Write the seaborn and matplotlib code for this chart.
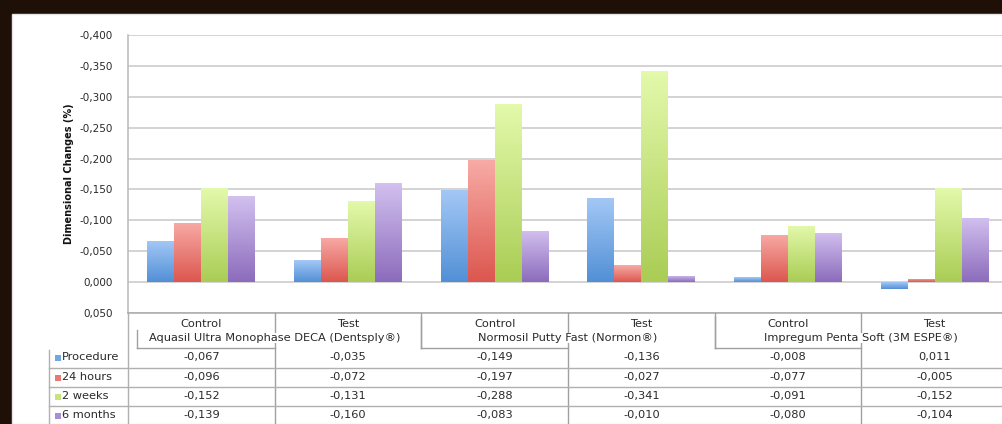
import numpy as np
import pandas as pd
import matplotlib
matplotlib.use("Agg")
import matplotlib.pyplot as plt
import matplotlib.transforms as mtransforms
from matplotlib.lines import Line2D
from matplotlib.patches import Rectangle
from matplotlib.colors import to_rgb
import seaborn as sns

# ---------------- data ----------------
groups = ["Aquasil Ultra Monophase DECA (Dentsply®)",
          "Normosil Putty Fast (Normon®)",
          "Impregum Penta Soft (3M ESPE®)"]
conditions = ["Control", "Test"]
series = ["Procedure", "24 hours", "2 weeks", "6 months"]
procedure = [-0.067, -0.035, -0.149, -0.136, -0.008, 0.011]
hours24 = [-0.096, -0.072, -0.197, -0.027, -0.077, -0.005]
weeks2 = [-0.152, -0.131, -0.288, -0.341, -0.091, -0.152]
months6 = [-0.139, -0.160, -0.083, -0.010, -0.080, -0.104]
yticks = [-0.400, -0.350, -0.300, -0.250, -0.200, -0.150, -0.100, -0.050, 0.000, 0.050]

light = ["#a4c8f6", "#f8aaa5", "#e3f9ab", "#d2c0ef"]
dark = ["#5290d6", "#dc574f", "#aacd55", "#8c6cbc"]
mid = ["#6fa6e4", "#e57a73", "#c6e47e", "#a88fd4"]

cats = [f"{g}|{c}" for g in groups for c in conditions]
values = [procedure, hours24, weeks2, months6]
rows = []
for s, vals in zip(series, values):
    for c, v in zip(cats, vals):
        rows.append({"cat": c, "series": s, "value": v})
df = pd.DataFrame(rows)

# ---------------- figure ----------------
W, H = 1003, 424
fig = plt.figure(figsize=(W / 100, H / 100), dpi=100)
fig.patch.set_facecolor("#1e1006")
fig.add_artist(Rectangle((12 / W, 0), 1, 1 - 14 / H, transform=fig.transFigure,
                         facecolor="white", edgecolor="#e6e6e6", lw=1.0, zorder=0))

font = "DejaVu Sans"
plt.rcParams["font.family"] = [font]
tcol = "#2a2a2a"

ax = fig.add_axes([128 / W, 1 - 313 / H, 880 / W, (313 - 35) / H])
ax.set_facecolor("none")

sns.barplot(data=df, x="cat", y="value", hue="series", order=cats,
            hue_order=series, palette=mid, width=0.735, dodge=True,
            saturation=1, errorbar=None, ax=ax, legend=False, zorder=2)

ax.set_ylim(0.05, -0.4)
ax.set_xlim(-0.5, 5.5)
ax.set_yticks(yticks)
ax.set_yticklabels([("%.3f" % v).replace(".", ",").replace("-0,000", "0,000") for v in yticks],
                   fontsize=7.5, color=tcol)
ax.tick_params(axis="y", length=0, pad=11)
ax.set_xticks([])
ax.set_xlabel("")
ax.set_ylabel("Dimensional Changes (%)", fontsize=7, fontweight="bold", labelpad=4,
              color="#111111")
ax.yaxis.grid(True, color="#c8c8c8", lw=1.1, zorder=0)
ax.set_axisbelow(True)
for sp in ["top", "right"]:
    ax.spines[sp].set_visible(False)
ax.spines["left"].set_color("#b8b8b8")
ax.spines["bottom"].set_color("#a8a8a8")
ax.spines["left"].set_linewidth(1.1)
ax.spines["bottom"].set_linewidth(1.1)

# gradient fill for each bar
for i, p in enumerate(ax.patches):
    si = i // len(cats)
    if si >= len(series):
        continue
    x0 = p.get_x(); w = p.get_width(); y0 = p.get_y(); h = p.get_height()
    ya, yb = sorted([y0, y0 + h])
    n = 64
    t = np.linspace(0, 1, n)[:, None]
    c0 = np.array(to_rgb(light[si])); c1 = np.array(to_rgb(dark[si]))
    grad = (c0 * (1 - t) + c1 * t)[:, None, :]
    im = ax.imshow(grad, extent=(x0, x0 + w, yb, ya), origin="upper",
                   aspect="auto", zorder=2.5, interpolation="bilinear")
    im.set_clip_path(p)
    p.set_facecolor("none")
    p.set_edgecolor("none")
ax.set_xlim(-0.5, 5.5)
ax.set_ylim(0.05, -0.4)

# ---------------- data table / category header ----------------
tr = mtransforms.blended_transform_factory(ax.transData, fig.transFigure)
def fy(py):
    return 1 - py / H

lc = "#a0a0a0"
def fline(xs, ys, trans=fig.transFigure, color=lc, lw=1.0):
    fig.add_artist(Line2D(xs, ys, transform=trans, color=color, lw=lw, zorder=1))

fs = 8.2
txt_kw = dict(fontsize=fs, color=tcol, ha="center", va="center")
for i, c in enumerate(cats):
    g, cond = c.split("|")
    fig.text(i, fy(324), cond, transform=tr, **txt_kw)

# group boundaries / Control-Test separators
for gi in range(len(groups)):
    xl = 2 * gi - 0.5
    xm = 2 * gi + 0.5
    top_start = 330 if gi == 0 else 317
    xl_line = xl + (9 / 146.7 if gi == 0 else 0)
    if gi > 0:
        fline([xl, xl], [fy(313), fy(348)], trans=tr)
    fline([xl_line, xl_line], [fy(top_start), fy(348)], trans=tr)
    fline([xl_line, xm], [fy(348), fy(348)], trans=tr)
    fline([xm, xm], [fy(313), fy(424)], trans=tr)
    fig.text(xm, fy(338), groups[gi], transform=tr,
             bbox=dict(facecolor="white", edgecolor="none", pad=0.3), zorder=3, **txt_kw)

# table body
row_y = [357, 377, 396, 415]
for r, (s, vals) in enumerate(zip(series, values)):
    for i, v in enumerate(vals):
        fig.text(i, fy(row_y[r]), ("%.3f" % v).replace(".", ","), transform=tr, **txt_kw)
    fig.add_artist(Rectangle((55 / W, fy(row_y[r] + 4)), 6 / W, 6 / H,
                             transform=fig.transFigure, facecolor=mid[r],
                             edgecolor="none", zorder=3))
    fig.text(62 / W, fy(row_y[r]), s, fontsize=fs, color=tcol,
             ha="left", va="center")

for yy in [368, 387, 406]:
    fline([49 / W, 1], [fy(yy), fy(yy)], color="#b0b0b0")
fline([49 / W, 49 / W], [fy(350), fy(424)], color="#b0b0b0")
fline([128 / W, 128 / W], [fy(313), fy(424)], color="#b0b0b0")

fig.savefig("out.png", dpi=100, facecolor=fig.get_facecolor())
